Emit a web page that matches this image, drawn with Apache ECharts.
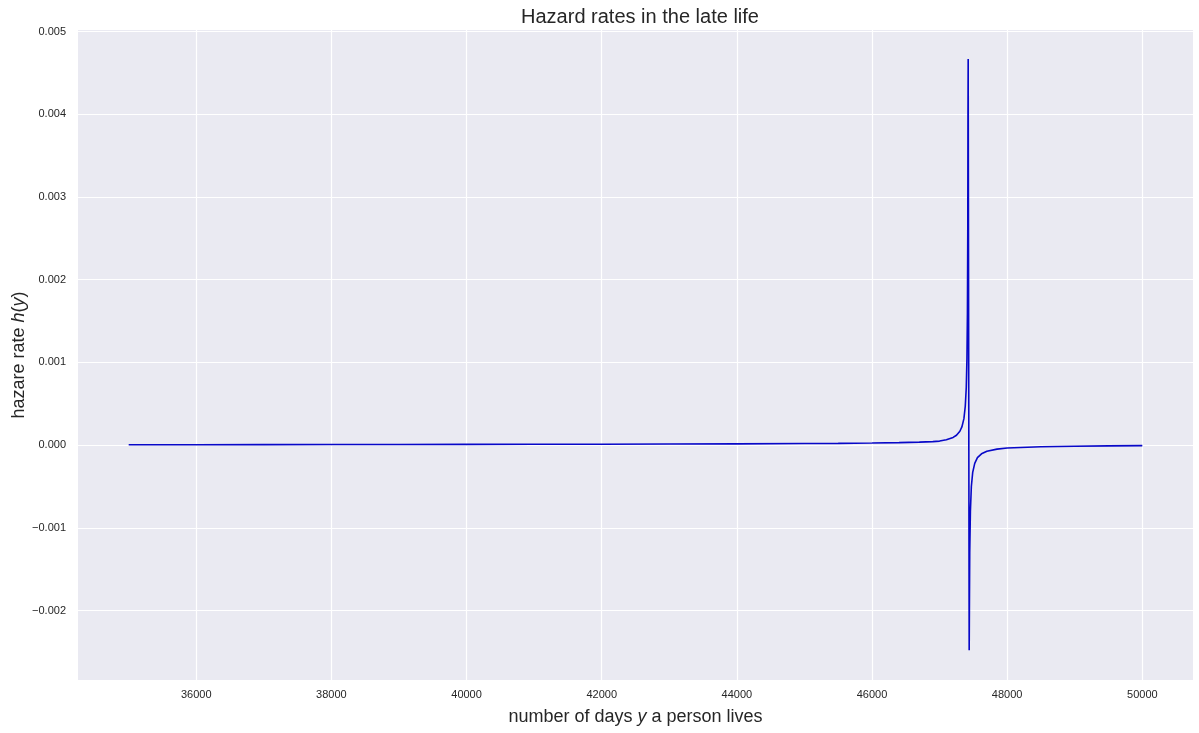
<!DOCTYPE html>
<html>
<head>
<meta charset="utf-8">
<script src="https://cdn.jsdelivr.net/npm/echarts@6/dist/echarts.min.js"></script>
<style>
html,body{margin:0;padding:0;background:#ffffff;}
#chart{width:1199px;height:733px;}
</style>
</head>
<body>
<div id="chart"></div>
<script>
// Days y (x values) and hazard rates h(y)
const days = [
  35000, 36000, 37000, 38000, 39000, 40000, 41000, 42000, 43000, 44000,
  45000, 45500, 46000, 46400, 46700, 46900, 47000, 47100, 47200, 47250,
  47300, 47330, 47360, 47380, 47395, 47405, 47412, 47417, 47420, 47423,
  47438, 47441, 47446, 47456, 47470, 47490, 47520, 47560, 47620, 47700,
  47850, 48000, 48500, 49000, 49500, 50000
];
const hazard = [
  0.000004, 0.000005, 0.000006, 0.000007, 0.000008, 0.000009, 0.000010, 0.000011, 0.000013, 0.000015,
  0.000019, 0.000021, 0.000025, 0.000030, 0.000037, 0.000043, 0.000049, 0.000065, 0.000093, 0.000120,
  0.000168, 0.000220, 0.000320, 0.000470, 0.000700, 0.001050, 0.001600, 0.002600, 0.004000, 0.004670,
  -0.002480, -0.002000, -0.001300, -0.000800, -0.000500, -0.000330, -0.000220, -0.000150, -0.000105, -0.000074,
  -0.000048, -0.000035, -0.000020, -0.000013, -0.000009, -0.000006
];
const xTicks = [36000, 38000, 40000, 42000, 44000, 46000, 48000, 50000];
const yTicks = [-0.002, -0.001, 0.000, 0.001, 0.002, 0.003, 0.004, 0.005];

const FONT = '"Liberation Sans", Arial, "DejaVu Sans", sans-serif';
const TXT = '#262626';

const chart = echarts.init(document.getElementById('chart'), null, {renderer: 'canvas'});
chart.setOption({
  backgroundColor: '#ffffff',
  animation: false,
  title: {
    text: 'Hazard rates in the late life',
    left: 635, top: 2, textAlign: 'center',
    textStyle: {fontFamily: FONT, fontSize: 20, fontWeight: 'normal', color: TXT}
  },
  grid: {
    left: 78, top: 30, right: 6, bottom: 53,
    outerBoundsMode: 'none', containLabel: false,
    show: true, backgroundColor: '#eaeaf2', borderWidth: 0
  },
  xAxis: {
    type: 'value', min: 34250, max: 50750,
    name: 'number of days {i|y} a person lives',
    nameLocation: 'middle', nameGap: 28, nameMoveOverlap: false,
    nameTextStyle: {
      fontFamily: FONT, fontSize: 18, color: TXT,
      rich: {i: {fontFamily: FONT, fontSize: 18, fontStyle: 'italic', color: TXT}}
    },
    axisLine: {show: false},
    axisTick: {show: false, customValues: xTicks},
    axisLabel: {
      customValues: xTicks, margin: 9,
      fontFamily: FONT, fontSize: 11, color: TXT,
      formatter: v => String(v)
    },
    splitLine: {show: true, lineStyle: {color: '#ffffff', width: 1.2}}
  },
  yAxis: {
    type: 'value', min: -0.00284, max: 0.00502,
    name: 'hazare rate {i|h}({i|y})',
    nameLocation: 'middle', nameGap: 50, nameRotate: 90, nameMoveOverlap: false,
    nameTextStyle: {
      fontFamily: FONT, fontSize: 18, color: TXT,
      rich: {i: {fontFamily: FONT, fontSize: 18, fontStyle: 'italic', color: TXT}}
    },
    axisLine: {show: false},
    axisTick: {show: false, customValues: yTicks},
    axisLabel: {
      customValues: yTicks, margin: 12,
      fontFamily: FONT, fontSize: 11, color: TXT,
      formatter: v => (v < -1e-12 ? '\u2212' : '') + Math.abs(v).toFixed(3)
    },
    splitLine: {show: true, lineStyle: {color: '#ffffff', width: 1.2}}
  },
  series: [{
    type: 'line',
    data: days.map((d, i) => [d, hazard[i]]),
    showSymbol: false,
    smooth: false,
    lineStyle: {color: '#0808c8', width: 1.6},
    itemStyle: {color: '#0808c8'}
  }]
});
</script>
</body>
</html>
